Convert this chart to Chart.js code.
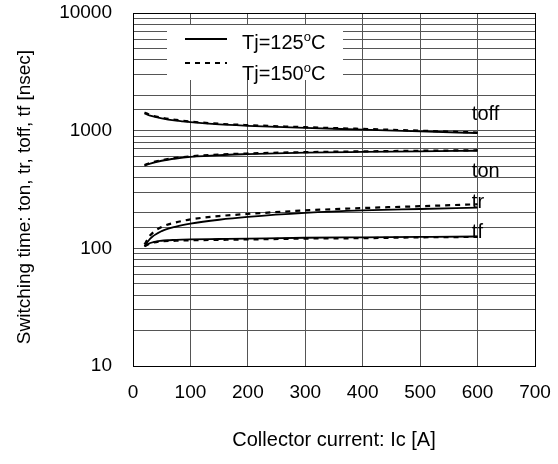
<!DOCTYPE html>
<html>
<head>
<meta charset="utf-8">
<script src="https://cdn.jsdelivr.net/npm/chart.js@4/dist/chart.umd.min.js"></script>
<style>
  html, body { margin: 0; padding: 0; background: #fff; }
  #wrap { width: 558px; height: 464px; position: relative; }
</style>
</head>
<body>
<div id="wrap"><canvas id="c" width="558" height="464"></canvas></div>
<script>
// ---- Data ----
const current = [20, 30, 50, 75, 100, 150, 200, 300, 400, 500, 600];

const toff125 = [1400, 1340, 1270, 1215, 1180, 1130, 1100, 1055, 1020, 985, 955];
const toff150 = [1430, 1360, 1290, 1235, 1195, 1145, 1115, 1070, 1035, 1000, 965];
const ton125  = [505, 525, 555, 580, 598, 620, 632, 650, 660, 668, 675];
const ton150  = [510, 532, 562, 587, 605, 627, 640, 657, 667, 675, 682];
const tr125   = [104, 121, 140, 153, 162, 175, 185, 200, 210, 216, 222];
const tr150   = [108, 129, 152, 166, 176, 188, 196, 210, 220, 228, 237];
const tf125   = [104, 111, 116, 118, 119, 120, 121, 123, 124, 125, 126];
const tf150   = [104, 110, 115, 116, 117, 118, 119, 121, 122, 124, 125];

const legendLabels = ['Tj=125', 'Tj=150'];
const curveLabels = ['toff', 'ton', 'tr', 'tf'];
const curveLabelY = [1370, 449, 246, 137];   // value where each curve name sits
const curveLabelX = 590;                       // Ic value where curve names start

const xTicks = [0, 100, 200, 300, 400, 500, 600, 700];
const yTickLabels = [10, 100, 1000, 10000];
const xTitle = 'Collector current: Ic [A]';
const yTitle = 'Switching time: ton, tr, toff, tf [nsec]';

const FONT = '"Liberation Sans", Arial, sans-serif';

function pts(ys) { return current.map((x, i) => ({ x: x, y: ys[i] })); }

function ds(label, ys, dashed) {
  return {
    label: label,
    data: pts(ys),
    borderColor: '#000',
    backgroundColor: '#000',
    borderWidth: dashed ? 2.2 : 1.8,
    borderDash: dashed ? [5, 5] : [],
    pointRadius: 0,
    cubicInterpolationMode: 'monotone',
    fill: false
  };
}

const datasets = [
  ds('Tj=125 toff', toff125, false), ds('Tj=150 toff', toff150, true),
  ds('Tj=125 ton', ton125, false),   ds('Tj=150 ton', ton150, true),
  ds('Tj=125 tr', tr125, false),     ds('Tj=150 tr', tr150, true),
  ds('Tj=125 tf', tf125, false),     ds('Tj=150 tf', tf150, true)
];

const overlay = {
  id: 'overlay',
  afterDatasetsDraw(chart) {
    const ctx = chart.ctx;
    const xs = chart.scales.x, ys = chart.scales.y;
    const a = chart.chartArea;
    ctx.save();
    // curve names
    ctx.fillStyle = '#000';
    ctx.font = '20px ' + FONT;
    ctx.textAlign = 'left';
    ctx.textBaseline = 'middle';
    curveLabels.forEach((t, i) => {
      ctx.fillText(t, xs.getPixelForValue(curveLabelX), ys.getPixelForValue(curveLabelY[i]));
    });
    // legend box
    const bx = a.left + 34, by = a.top + 12, bw = 176, bh = 55;
    ctx.fillStyle = '#fff';
    ctx.fillRect(bx, by, bw, bh);
    const rows = [
      { lineY: by + 14, textY: by + 18, dash: [], w: 1.8 },
      { lineY: by + 38, textY: by + 49, dash: [5, 5], w: 2.2 }
    ];
    rows.forEach((r, i) => {
      ctx.strokeStyle = '#000';
      ctx.lineWidth = r.w;
      ctx.setLineDash(r.dash);
      ctx.beginPath();
      ctx.moveTo(bx + 18, r.lineY);
      ctx.lineTo(bx + 60, r.lineY);
      ctx.stroke();
      ctx.setLineDash([]);
      ctx.fillStyle = '#000';
      ctx.textBaseline = 'middle';
      ctx.font = '20px ' + FONT;
      let tx = bx + 75;
      ctx.fillText(legendLabels[i], tx, r.textY);
      tx += ctx.measureText(legendLabels[i]).width;
      ctx.font = '13px ' + FONT;
      ctx.fillText('o', tx, r.textY - 6);
      tx += ctx.measureText('o').width;
      ctx.font = '20px ' + FONT;
      ctx.fillText('C', tx, r.textY);
    });
    // y axis title
    ctx.font = '19px ' + FONT;
    ctx.textAlign = 'center';
    ctx.textBaseline = 'middle';
    ctx.translate(25, 197);
    ctx.rotate(-Math.PI / 2);
    ctx.fillText(yTitle, 0, 0);
    ctx.restore();
  }
};

function noPad(s) { s.paddingTop = 0; s.paddingBottom = 0; s.paddingLeft = 0; s.paddingRight = 0; }

new Chart(document.getElementById('c'), {
  type: 'line',
  data: { datasets: datasets },
  options: {
    responsive: false,
    animation: false,
    events: [],
    layout: { padding: { top: 13, right: 23, left: 0, bottom: 0 } },
    plugins: { legend: { display: false }, tooltip: { enabled: false }, title: { display: false } },
    scales: {
      x: {
        type: 'linear',
        min: 0, max: 700,
        afterBuildTicks: (s) => { s.ticks = xTicks.map(v => ({ value: v })); },
        afterFit: (s) => { s.height = 98; noPad(s); },
        ticks: { color: '#000', font: { family: FONT, size: 19 }, padding: 15, maxRotation: 0 },
        grid: {
          drawTicks: false,
          color: (c) => (c.tick && (c.tick.value === 0 || c.tick.value === 700)) ? '#000' : '#555',
          lineWidth: 1
        },
        border: { display: true, color: '#000', width: 1 },
        title: { display: true, text: xTitle, color: '#000',
                 font: { family: FONT, size: 20 }, padding: { top: 0, bottom: 12 } }
      },
      y: {
        type: 'logarithmic',
        min: 10, max: 10000,
        afterFit: (s) => { s.width = 133; noPad(s); },
        ticks: {
          color: '#000', font: { family: FONT, size: 19 }, padding: 21, autoSkip: false,
          callback: (v) => yTickLabels.includes(v) ? String(v) : ''
        },
        grid: {
          drawTicks: false,
          color: (c) => (c.tick && (c.tick.value === 10 || c.tick.value === 10000)) ? '#000' : '#555',
          lineWidth: 1
        },
        border: { display: true, color: '#000', width: 1 },
        title: { display: false }
      }
    }
  },
  plugins: [overlay]
});
</script>
</body>
</html>
